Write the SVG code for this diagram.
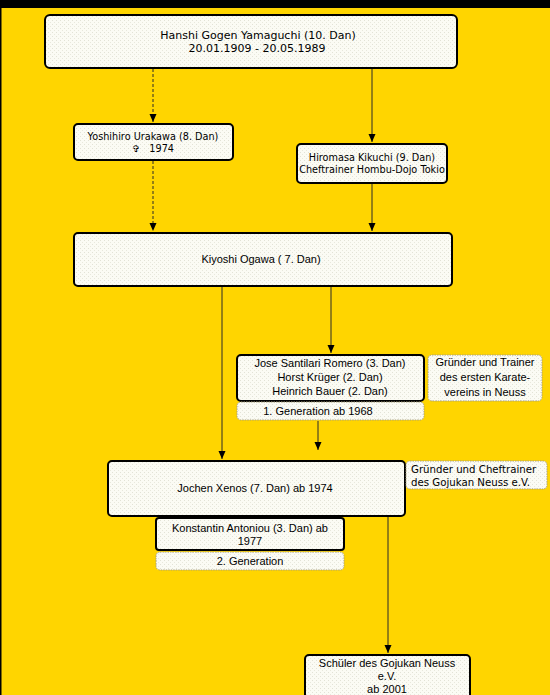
<svg xmlns="http://www.w3.org/2000/svg" width="550" height="695" viewBox="0 0 550 695">
<defs>
<marker id="arr" viewBox="0 0 8 8" refX="8" refY="4" markerWidth="8" markerHeight="8" markerUnits="userSpaceOnUse" orient="auto">
<path d="M0,0.5 L8,4 L0,7.5 Z" fill="#000"/>
</marker>
<pattern id="dots" width="4" height="4" patternUnits="userSpaceOnUse">
<rect width="4" height="4" fill="#FBFBF4"/>
<rect x="0" y="0" width="1" height="1" fill="#E2E2D6"/>
<rect x="2" y="2" width="1" height="1" fill="#E8E8DC"/>
</pattern>
<style>
.main{fill:url(#dots);stroke:#000;stroke-width:2}
.thin{fill:url(#dots);stroke:#A89F7A;stroke-width:1;stroke-dasharray:1.5 1}
.v{font-family:"DejaVu Sans",Verdana,sans-serif;fill:#000;text-anchor:middle}
.s{text-anchor:start}
.a{font-family:"Liberation Sans",Arial,sans-serif;font-size:11px;fill:#000;text-anchor:middle}
.ln{stroke:#2a2a2a;stroke-width:1;fill:none}
</style>
</defs>
<rect x="0" y="0" width="550" height="695" fill="#FFD500"/>
<rect x="0" y="0" width="550" height="8" fill="#000"/>
<rect x="0" y="0" width="1.5" height="695" fill="#000"/>

<g id="connectors">
<line class="ln" x1="153" y1="69" x2="153" y2="122" stroke-dasharray="3 2" marker-end="url(#arr)"/>
<line class="ln" x1="372" y1="69" x2="372" y2="142" marker-end="url(#arr)"/>
<line class="ln" x1="153" y1="161" x2="153" y2="231" stroke-dasharray="3 2" marker-end="url(#arr)"/>
<line class="ln" x1="372" y1="184" x2="372" y2="231" marker-end="url(#arr)"/>
<line class="ln" x1="222" y1="287" x2="222" y2="459" marker-end="url(#arr)"/>
<line class="ln" x1="331" y1="287" x2="331" y2="353" marker-end="url(#arr)"/>
<line class="ln" x1="318" y1="421" x2="318" y2="450" marker-end="url(#arr)"/>
<line class="ln" x1="388" y1="517" x2="388" y2="653" marker-end="url(#arr)"/>
</g>

<g id="yamaguchi">
<rect class="main" x="45" y="15" width="412" height="53" rx="5"/>
<text class="v" font-size="11" x="258" y="39">Hanshi Gogen Yamaguchi (10. Dan)</text>
<text class="v" font-size="11" x="257" y="52">20.01.1909 - 20.05.1989</text>
</g>

<g id="urakawa">
<rect class="main" x="74" y="124" width="159" height="36" rx="4"/>
<text class="v" font-size="9.7" x="153" y="140">Yoshihiro Urakawa (8. Dan)</text>
<text class="v" font-size="9.7" x="153" y="152" xml:space="preserve">✞   1974</text>
</g>

<g id="kikuchi">
<rect class="main" x="297" y="144" width="150" height="39" rx="4"/>
<text class="v" font-size="9.7" x="372" y="161">Hiromasa Kikuchi (9. Dan)</text>
<text class="v" font-size="9.7" x="372" y="173">Cheftrainer Hombu-Dojo Tokio</text>
</g>

<g id="ogawa">
<rect class="main" x="74" y="233" width="378" height="53" rx="4"/>
<text class="a" x="261" y="263">Kiyoshi Ogawa ( 7. Dan)</text>
</g>

<g id="gen1">
<rect class="main" x="237" y="355" width="187" height="46" rx="4"/>
<text class="a" x="330" y="367">Jose Santilari Romero (3. Dan)</text>
<text class="a" x="330" y="381">Horst Krüger (2. Dan)</text>
<text class="a" x="330" y="395">Heinrich Bauer (2. Dan)</text>
<rect class="thin" x="237" y="402" width="187" height="18" rx="4"/>
<text class="a" x="318" y="415">1. Generation ab 1968</text>
</g>

<g id="note1">
<rect class="thin" x="428" y="355" width="114" height="46" rx="4"/>
<text class="a" x="485" y="366">Gründer und Trainer</text>
<text class="a" x="485" y="381">des ersten Karate-</text>
<text class="a" x="485" y="396">vereins in Neuss</text>
</g>

<g id="xenos">
<rect class="main" x="108" y="461" width="297" height="55" rx="4"/>
<text class="a" x="255" y="492">Jochen Xenos (7. Dan) ab 1974</text>
</g>

<g id="note2">
<rect class="thin" x="406" y="461" width="141" height="28" rx="4"/>
<text class="v s" font-size="10.2" x="411" y="473">Gründer und Cheftrainer</text>
<text class="v s" font-size="10.2" x="411" y="486">des Gojukan Neuss e.V.</text>
</g>

<g id="gen2">
<rect class="main" x="156" y="518" width="188" height="32" rx="3" stroke-width="1.5"/>
<text class="a" x="250" y="532">Konstantin Antoniou (3. Dan) ab</text>
<text class="a" x="250" y="545">1977</text>
<rect class="thin" x="156" y="552" width="188" height="18" rx="4"/>
<text class="a" x="250" y="565">2. Generation</text>
</g>

<g id="schueler">
<rect class="main" x="305" y="655" width="165" height="50" rx="4" stroke-width="1.5"/>
<text class="a" x="387" y="667">Schüler des Gojukan Neuss</text>
<text class="a" x="387" y="680">e.V.</text>
<text class="a" x="387" y="693">ab 2001</text>
</g>
</svg>
